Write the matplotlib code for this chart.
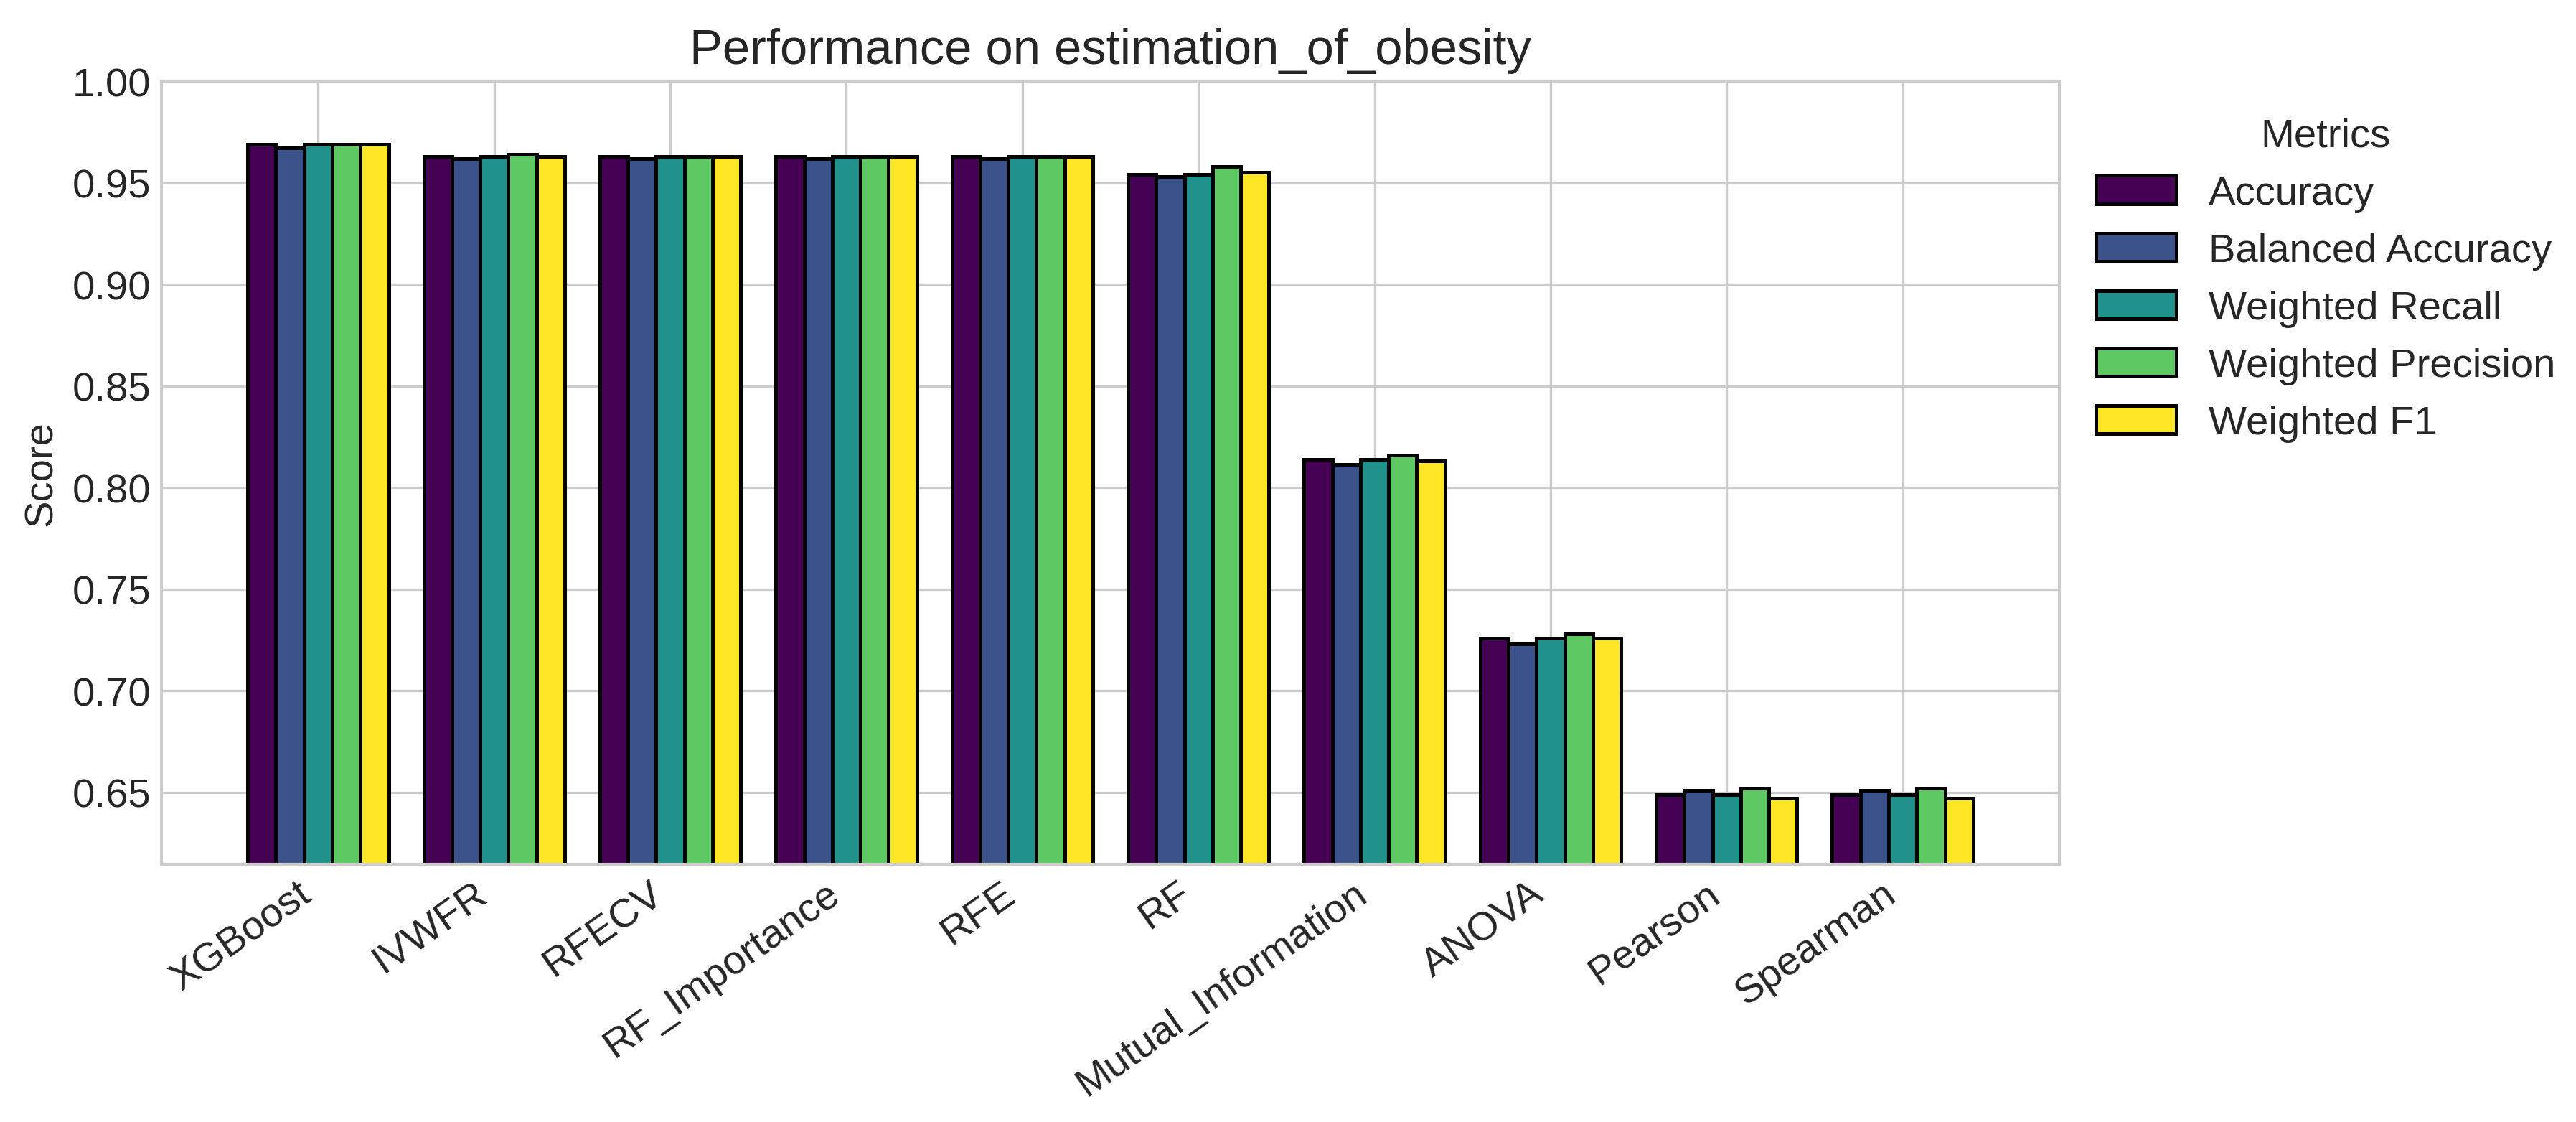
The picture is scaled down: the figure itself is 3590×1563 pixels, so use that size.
import numpy as np
import matplotlib
matplotlib.use("Agg")
import matplotlib.pyplot as plt

# values
methods = ['XGBoost', 'IVWFR', 'RFECV', 'RF_Importance', 'RFE', 'RF',
           'Mutual_Information', 'ANOVA', 'Pearson', 'Spearman']
metrics = ['Accuracy', 'Balanced Accuracy', 'Weighted Recall',
           'Weighted Precision', 'Weighted F1']

accuracy = [0.969, 0.963, 0.963, 0.963, 0.963, 0.954, 0.814, 0.726, 0.649, 0.649]
balanced_accuracy = [0.967, 0.962, 0.962, 0.962, 0.962, 0.953, 0.8115, 0.723, 0.651, 0.651]
weighted_recall = [0.969, 0.963, 0.963, 0.963, 0.963, 0.954, 0.814, 0.726, 0.649, 0.649]
weighted_precision = [0.969, 0.964, 0.963, 0.963, 0.963, 0.958, 0.816, 0.728, 0.652, 0.652]
weighted_f1 = [0.969, 0.963, 0.963, 0.963, 0.963, 0.955, 0.813, 0.726, 0.647, 0.647]

series = [accuracy, balanced_accuracy, weighted_recall, weighted_precision, weighted_f1]

plt.style.use('seaborn-v0_8-whitegrid')
plt.rcParams['font.family'] = ['Liberation Sans', 'DejaVu Sans']

fs = 13.5

fig = plt.figure(figsize=(3590 / 300, 1564 / 300), dpi=300)
ax = fig.add_axes([225 / 3590, 1 - 1205 / 1564, (2870 - 225) / 3590, (1205 - 114) / 1564])

colors = plt.cm.viridis(np.linspace(0, 1, len(metrics)))
x = np.arange(len(methods))
width = 0.16
for i, (name, vals) in enumerate(zip(metrics, series)):
    ax.bar(x + (i - 2) * width, vals, width, label=name, color=colors[i],
           edgecolor='black', linewidth=1.2)

all_vals = np.concatenate([np.array(s) for s in series])
ax.set_ylim(all_vals.min() * 0.95, 1.0)
ax.set_xticks(x)
ax.set_xticklabels(methods, rotation=35, ha='right', fontsize=fs)
ax.tick_params(axis='y', labelsize=fs)
ax.set_ylabel('Score', fontsize=fs)
ax.set_title('Performance on estimation_of_obesity', fontsize=16.5)
ax.set_axisbelow(True)

ax.legend(title='Metrics', bbox_to_anchor=(1.0, 1.0), loc='upper left',
          fontsize=fs, title_fontsize=fs, frameon=False)

fig.savefig('out.png', dpi=300)
